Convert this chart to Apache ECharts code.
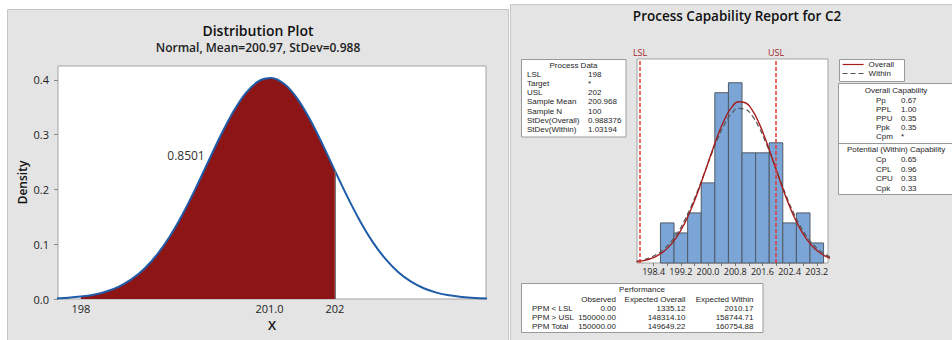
<!DOCTYPE html>
<html><head><meta charset="utf-8">
<script src="https://cdn.jsdelivr.net/npm/echarts@6/dist/echarts.min.js"></script>
<style>html,body{margin:0;padding:0;background:#fff;}#c{width:952px;height:340px;}</style>
</head><body><div id="c"></div>
<script>
// ---------- Left panel: distribution plot ----------
const distX = [197.6,197.8,198.0,198.2,198.4,198.6,198.8,199.0,199.2,199.4,199.6,199.8,200.0,200.2,200.4,200.6,200.8,201.0,201.2,201.4,201.6,201.8,202.0,202.2,202.4,202.6,202.8,203.0,203.2,203.4,203.6,203.8,204.0,204.2,204.4];
const distY = [0.0012,0.0023,0.0044,0.0079,0.0137,0.0227,0.0362,0.0553,0.0812,0.1142,0.1544,0.2003,0.2494,0.2980,0.3419,0.3765,0.3979,0.4036,0.3930,0.3673,0.3295,0.2838,0.2345,0.1861,0.1417,0.1035,0.0727,0.0489,0.0316,0.0196,0.0117,0.0067,0.0037,0.0019,0.0010];
const shadeFrom = 198;
const shadeTo = 202;
const shadeAreaText = '0.8501';
const distTickValues = [198, 200.97, 202];
const distTickLabels = ['198', '201.0', '202'];
const densityTicks = [0, 0.1, 0.2, 0.3, 0.4];

// ---------- Right panel: process capability ----------
const binEdges = [198.6,199.0,199.4,199.8,200.2,200.6,201.0,201.4,201.8,202.2,202.6,203.0,203.4];
const binCounts = [4,3,5,8,17,18,11,11,12,4,5,2];
const fitX = [197.9,198.1,198.3,198.5,198.7,198.9,199.1,199.3,199.5,199.7,199.9,200.1,200.3,200.5,200.7,200.9,201.1,201.3,201.5,201.7,201.9,202.1,202.3,202.5,202.7,202.9,203.1,203.3,203.5,203.7];
const fitOverall = [0.131,0.240,0.423,0.715,1.160,1.808,2.706,3.888,5.359,7.089,9.006,10.979,12.848,14.434,15.562,16.107,16.002,15.260,13.969,12.273,10.350,8.379,6.511,4.857,3.478,2.389,1.576,0.998,0.607,0.354];
const fitWithin = [0.186,0.325,0.547,0.886,1.382,2.077,3.005,4.188,5.623,7.268,9.053,10.857,12.541,13.953,14.952,15.430,15.338,14.684,13.540,12.025,10.285,8.473,6.722,5.137,3.781,2.680,1.829,1.203,0.762,0.465];
const specNames = ['LSL', 'USL'];
const specValues = [198, 202];
const histLabelTicks = [198.4,199.2,200.0,200.8,201.6,202.4,203.2];
const histTickMarks = [198.4,198.8,199.2,199.6,200.0,200.4,200.8,201.2,201.6,202.0,202.4,202.8,203.2];

const processLabels = ['LSL','Target','USL','Sample Mean','Sample N','StDev(Overall)','StDev(Within)'];
const processValues = ['198','*','202','200.968','100','0.988376','1.03194'];
const overallCapLabels = ['Pp','PPL','PPU','Ppk','Cpm'];
const overallCapValues = ['0.67','1.00','0.35','0.35','*'];
const withinCapLabels = ['Cp','CPL','CPU','Cpk'];
const withinCapValues = ['0.65','0.96','0.33','0.33'];
const perfColumns = ['Observed','Expected Overall','Expected Within'];
const perfRows = ['PPM < LSL','PPM > USL','PPM Total'];
const perfObserved = ['0.00','150000.00','150000.00'];
const perfExpOverall = ['1335.12','148314.10','149649.22'];
const perfExpWithin = ['2010.17','158744.71','160754.88'];

// ---------- build ----------
const FF = "'Open Sans', 'Noto Sans', sans-serif";
const TF = "'Liberation Sans', Arial, sans-serif";
const curve = distX.map((x, i) => [x, distY[i]]);
const shaded = curve.filter(p => p[0] >= shadeFrom && p[0] <= shadeTo);
const edgeY = distY[distX.indexOf(shadeTo)];
const bins = binCounts.map((c, i) => [binEdges[i], binEdges[i + 1], c]);
const overallPts = fitX.map((x, i) => [x, fitOverall[i]]);
const withinPts = fitX.map((x, i) => [x, fitWithin[i]]);

function txt(x, y, s, align, opts) {
  opts = opts || {};
  return { type: 'text', x: x, y: y, z: 100, silent: true,
    style: { text: s, fontSize: opts.size || 8, fontFamily: opts.family || TF, fontWeight: opts.weight || 'normal',
      fill: opts.color || '#1e1e1e', textAlign: align || 'left', align: align || 'left',
      textVerticalAlign: 'middle', verticalAlign: 'middle' } };
}
function box(x, y, w, h, z) {
  return { type: 'rect', z: z == null ? 50 : z, silent: true, shape: { x: x, y: y, width: w, height: h },
    style: { fill: '#fff', stroke: '#9a9a9a', lineWidth: 1 } };
}
function hline(x1, x2, y) {
  return { type: 'line', z: 60, silent: true, shape: { x1: x1, y1: y, x2: x2, y2: y }, style: { stroke: '#9a9a9a', lineWidth: 1 } };
}

const graphics = [];
// panel backgrounds
graphics.push({ type: 'rect', z: -10, silent: true, shape: { x: 7.5, y: 9.5, width: 501, height: 340 }, style: { fill: '#e4e4e4', stroke: '#c6c6c6', lineWidth: 1 } });
graphics.push({ type: 'rect', z: -10, silent: true, shape: { x: 510.5, y: 4.5, width: 450, height: 340 }, style: { fill: '#e4e4e4', stroke: '#c6c6c6', lineWidth: 1 } });
// shaded probability label
graphics.push(txt(186, 155, shadeAreaText, 'center', { size: 12, color: '#333', family: FF }));

// Process data box
graphics.push(box(521.5, 59.5, 104.5, 77.5));
graphics.push(txt(573.5, 65, 'Process Data', 'center'));
processLabels.forEach((l, i) => {
  const y = 74.5 + i * 9.15;
  graphics.push(txt(527, y, l, 'left'));
  graphics.push(txt(588, y, processValues[i], 'left'));
});

// legend box
graphics.push(box(839.5, 59.5, 65, 22));

// capability box
graphics.push(box(838.5, 83.5, 120, 111));
graphics.push(hline(838.5, 952, 143.5));
graphics.push(txt(896, 90, 'Overall Capability', 'center'));
overallCapLabels.forEach((l, i) => {
  const y = 100 + i * 9.1;
  graphics.push(txt(876, y, l, 'left'));
  graphics.push(txt(901, y, overallCapValues[i], 'left'));
});
graphics.push(txt(896, 149.5, 'Potential (Within) Capability', 'center'));
withinCapLabels.forEach((l, i) => {
  const y = 159.3 + i * 9.7;
  graphics.push(txt(876, y, l, 'left'));
  graphics.push(txt(901, y, withinCapValues[i], 'left'));
});

// performance box
graphics.push(box(521.5, 283.5, 241.5, 49));
graphics.push(txt(642, 289.3, 'Performance', 'center'));
const perfRight = [616, 685.5, 753.5];
perfColumns.forEach((c, j) => graphics.push(txt(perfRight[j], 299, c, 'right')));
const perfCols = [perfObserved, perfExpOverall, perfExpWithin];
perfRows.forEach((r, i) => {
  const y = 308.4 + i * 9.1;
  graphics.push(txt(532, y, r, 'left'));
  perfCols.forEach((col, j) => graphics.push(txt(perfRight[j], y, col[i], 'right')));
});

function nearestLabel(v, vals, labs) {
  let best = 0;
  vals.forEach((t, i) => { if (Math.abs(t - v) < Math.abs(vals[best] - v)) best = i; });
  return labs[best];
}

const option = {
  backgroundColor: '#fff',
  animation: false,
  textStyle: { fontFamily: FF },
  title: [
    { text: 'Distribution Plot', subtext: 'Normal, Mean=200.97, StDev=0.988', left: 258, top: 23, textAlign: 'center', padding: 0, itemGap: 4,
      textStyle: { fontSize: 14, fontWeight: 600, color: '#111', fontFamily: FF },
      subtextStyle: { fontSize: 12, fontWeight: 600, color: '#222', fontFamily: FF } },
    { text: 'Process Capability Report for C2', left: 737, top: 9, textAlign: 'center', padding: 0,
      textStyle: { fontSize: 13.5, fontWeight: 600, color: '#111', fontFamily: FF } }
  ],
  legend: {
    data: ['Overall', 'Within'], orient: 'vertical', left: 842, top: 60.5, padding: 0,
    itemWidth: 21, itemHeight: 8, itemGap: 1, selectedMode: false, z: 120,
    itemStyle: { opacity: 0, borderWidth: 0 },
    lineStyle: { width: 1.2 },
    textStyle: { fontSize: 8, color: '#1e1e1e', fontFamily: TF }
  },
  grid: [
    { left: 58, top: 66, width: 428, height: 233, show: true, backgroundColor: '#fff', borderColor: '#a3a3a3', borderWidth: 1, containLabel: false },
    { left: 637, top: 59, width: 191, height: 204, show: true, backgroundColor: '#fff', borderColor: '#a3a3a3', borderWidth: 1, containLabel: false }
  ],
  xAxis: [
    { type: 'value', gridIndex: 0, min: 197.64, max: 204.38,
      axisLine: { show: false }, splitLine: { show: false }, axisTick: { show: false },
      axisLabel: { customValues: distTickValues, formatter: v => nearestLabel(v, distTickValues, distTickLabels), fontSize: 11, color: '#222', margin: 4 },
      name: 'X', nameLocation: 'middle', nameGap: 17, nameTextStyle: { fontSize: 13, fontWeight: 600, color: '#111' } },
    { type: 'value', gridIndex: 1, min: 197.91, max: 203.53,
      axisLine: { show: false }, splitLine: { show: false },
      axisTick: { show: true, customValues: histTickMarks, length: 3, lineStyle: { color: '#777' } },
      axisLabel: { customValues: histLabelTicks, formatter: v => v.toFixed(1), fontSize: 9, color: '#222', margin: 4 } }
  ],
  yAxis: [
    { type: 'value', gridIndex: 0, min: 0, max: 0.4255,
      axisLine: { show: false }, splitLine: { show: false },
      axisTick: { show: true, customValues: densityTicks, length: 4, lineStyle: { color: '#888' } },
      axisLabel: { customValues: densityTicks, formatter: v => v.toFixed(1), fontSize: 11, color: '#222', margin: 9 },
      name: 'Density', nameLocation: 'middle', nameGap: 30, nameTextStyle: { fontSize: 12, fontWeight: 600, color: '#111' } },
    { type: 'value', gridIndex: 1, min: 0, max: 20.37, show: false }
  ],
  series: [
    { type: 'line', name: 'shade', xAxisIndex: 0, yAxisIndex: 0, data: shaded, smooth: 0.3, symbol: 'none', z: 2,
      lineStyle: { width: 0 }, areaStyle: { color: '#8e1515', opacity: 1 },
      markLine: { silent: true, symbol: 'none', label: { show: false }, lineStyle: { color: '#777', width: 1, type: 'solid' },
        data: [[{ coord: [shadeTo, 0] }, { coord: [shadeTo, edgeY] }]] } },
    { type: 'line', name: 'density', xAxisIndex: 0, yAxisIndex: 0, data: curve, smooth: 0.3, symbol: 'none', z: 3,
      lineStyle: { color: '#1f5ca8', width: 2 } },
    { type: 'line', name: 'spec', xAxisIndex: 1, yAxisIndex: 1, data: [], symbol: 'none', z: 1,
      markLine: { silent: true, symbol: 'none',
        lineStyle: { color: '#e23a33', width: 1.5, type: [4, 2] },
        label: { show: true, position: 'end', formatter: '{b}', color: '#a3282a', fontSize: 9, distance: 2 },
        data: specValues.map((v, i) => ({ xAxis: v, name: specNames[i] })) } },
    { type: 'custom', name: 'hist', xAxisIndex: 1, yAxisIndex: 1, z: 2, data: bins,
      encode: { x: [0, 1], y: 2 },
      renderItem: function (params, api) {
        const p1 = api.coord([api.value(0), api.value(2)]);
        const p2 = api.coord([api.value(1), 0]);
        return { type: 'rect', shape: { x: p1[0], y: p1[1], width: p2[0] - p1[0], height: p2[1] - p1[1] },
          style: { fill: '#7ba5d7', stroke: '#505a66', lineWidth: 1 } };
      } },
    { type: 'line', name: 'Overall', xAxisIndex: 1, yAxisIndex: 1, data: overallPts, smooth: true, symbol: 'none', z: 4,
      lineStyle: { color: '#a51d1d', width: 1.4 }, itemStyle: { color: '#a51d1d' } },
    { type: 'line', name: 'Within', xAxisIndex: 1, yAxisIndex: 1, data: withinPts, smooth: true, symbol: 'none', z: 3,
      lineStyle: { color: '#555', width: 1.2, type: [5, 3] }, itemStyle: { color: '#555' } }
  ],
  graphic: { elements: graphics }
};
const chart = echarts.init(document.getElementById('c'), null, { renderer: 'svg' });
chart.setOption(option);
</script></body></html>
